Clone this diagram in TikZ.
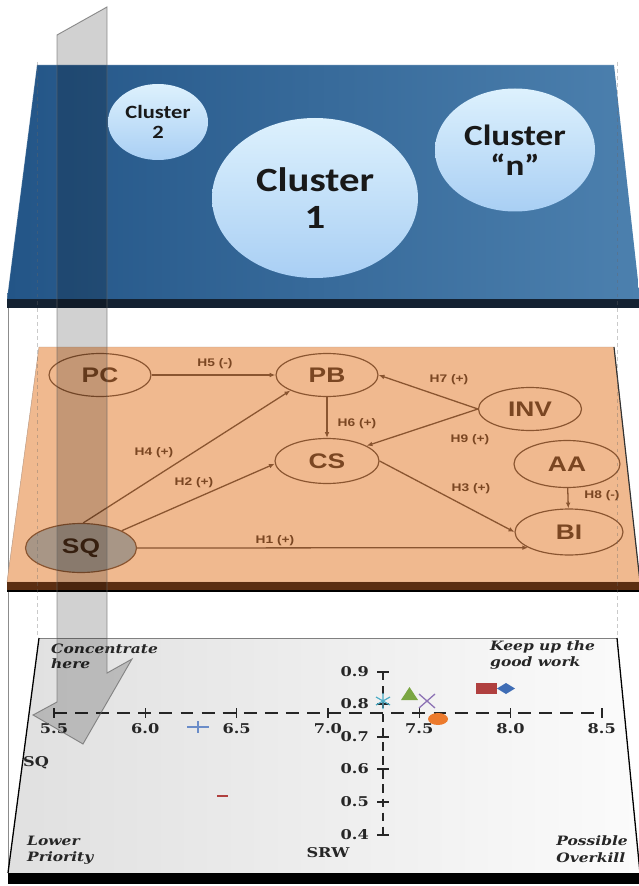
\documentclass[tikz,border=0pt]{standalone}
\usepackage{fontspec}
\usetikzlibrary{arrows.meta,shapes.geometric}
\newfontfamily\clusterfont[FakeStretch=1.2]{Carlito}
\newfontfamily\pathfont[FakeStretch=1.25]{Liberation Sans}
\newfontfamily\plotfont[FakeStretch=1.2]{DejaVu Serif}
\definecolor{clustleft}{HTML}{235587}
\definecolor{clustright}{HTML}{4C80AE}
\definecolor{clustedge}{HTML}{142232}
\definecolor{clustertop}{HTML}{DDF1FD}
\definecolor{clusterbot}{HTML}{A9CFF4}
\definecolor{pathback}{HTML}{F0B98F}
\definecolor{pathedge}{HTML}{5B2E12}
\definecolor{pathline}{HTML}{8A5530}
\definecolor{pathtext}{HTML}{7A4622}
\definecolor{sqfill}{HTML}{A89686}
\definecolor{plotleft}{HTML}{E0E0E0}
\definecolor{plotright}{HTML}{FBFBFB}
\definecolor{mkcyan}{HTML}{4BACC6}
\definecolor{mkgreen}{HTML}{7AA642}
\definecolor{mkpurple}{HTML}{8D72B5}
\definecolor{mkorange}{HTML}{EC7A2C}
\definecolor{mkred}{HTML}{B0403F}
\definecolor{mkblue}{HTML}{3F6DB5}
\definecolor{mklightblue}{HTML}{6A8CC8}

\begin{document}
\begin{tikzpicture}[x=0.3mm,y=-0.3mm,
  cluster/.style={ellipse,inner sep=0pt,top color=clustertop,bottom color=clusterbot,align=center,text=black!90},
  construct/.style={ellipse,draw=pathline,line width=1pt,inner sep=0pt,text=pathtext,font=\pathfont\bfseries\fontsize{18}{18}\selectfont},
  hyp/.style={draw=pathline,line width=1.1pt,-{Latex[length=5pt,width=4pt]}},
  hlabel/.style={font=\pathfont\bfseries\fontsize{9.4}{10}\selectfont,text=pathtext,inner sep=0pt},
  axisline/.style={line width=1.2pt,black!85},
  ticklabel/.style={font=\plotfont\bfseries\fontsize{11.5}{12}\selectfont,inner sep=0pt,text=black!85},
  plotnote/.style={font=\plotfont\bfseries\itshape\fontsize{11}{13}\selectfont,inner sep=0pt,text=black!85},
  band/.style={fill=black,fill opacity=0.18,draw=black!60,draw opacity=0.7,line width=0.8pt}]
\useasboundingbox (0,0) rectangle (638,886);
\draw[black!45,line width=0.5pt] (8,299) -- (8,880);

\shade[left color=clustleft,right color=clustright] (37,65) -- (614,65) -- (640,299) -- (7,299) -- cycle;
\draw[white,draw opacity=0.25,line width=0.6pt] (7,299) -- (37,65) -- (614,65);
\fill[clustedge] (7,299) rectangle (640,308);
\node[cluster,minimum width=30mm,minimum height=22.8mm,font=\clusterfont\bfseries\fontsize{16}{17}\selectfont] (c2) at (158,122) {Cluster\\2};
\node[cluster,minimum width=61.8mm,minimum height=48mm,font=\clusterfont\bfseries\fontsize{29}{31}\selectfont] (c1) at (315,198) {Cluster\\1};
\node[cluster,minimum width=48mm,minimum height=36.9mm,font=\clusterfont\bfseries\fontsize{25}{26}\selectfont] (cn) at (515,150) {Cluster\\“n”};

\filldraw[fill=pathback,draw=pathline!60] (39,347) -- (614,347) -- (640,582) -- (7,582) -- cycle;
\draw[black!80,line width=1pt] (614,347) -- (640,582);
\fill[pathedge] (7,582) rectangle (640,590);
\draw[black,line width=1pt] (7,591) -- (640,591);
\node[construct,minimum width=30.6mm,minimum height=12.9mm] (pc) at (100,375) {PC};
\node[construct,minimum width=30.6mm,minimum height=12.9mm] (pb) at (327,375) {PB};
\node[construct,minimum width=30.9mm,minimum height=12.9mm] (inv) at (530,409) {INV};
\node[construct,minimum width=31.2mm,minimum height=13.5mm] (cs) at (327,461) {CS};
\node[construct,minimum width=31.8mm,minimum height=14.1mm] (aa) at (567,464) {AA};
\node[construct,minimum width=32.4mm,minimum height=13.8mm] (bi) at (569,532) {BI};
\node[construct,minimum width=33.3mm,minimum height=14.7mm,fill=sqfill,text=black!45!pathtext] (sq) at (81,548) {SQ};
\draw[hyp] (pc) -- (pb);
\draw[hyp] (pb) -- (cs);
\draw[hyp] (inv.west) -- (pb.east);
\draw[hyp] (inv.west) -- (cs.21);
\draw[hyp] (cs.east) -- (bi.west);
\draw[hyp] (aa) -- (bi);
\draw[hyp] (sq.east) -- (bi.201);
\draw[hyp] (sq.85) -- (pb.203);
\draw[hyp] (sq.23) -- (cs.183);
\node[hlabel] (h5) at (215,364) {H5 (-)};
\node[hlabel] (h6) at (357,424) {H6 (+)};
\node[hlabel] (h7) at (449,380) {H7 (+)};
\node[hlabel] (h9) at (470,440) {H9 (+)};
\node[hlabel] (h4) at (154,453) {H4 (+)};
\node[hlabel] (h2) at (194,483) {H2 (+)};
\node[hlabel] (h3) at (471,489) {H3 (+)};
\node[hlabel] (h8) at (602,496) {H8 (-)};
\node[hlabel] (h1) at (275,541) {H1 (+)};

\shade[left color=plotleft,right color=plotright] (39,638) -- (617,638) -- (640,873) -- (8,873) -- cycle;
\draw[black!50,line width=0.6pt] (39,638) -- (617,638);
\draw[black,line width=1.1pt] (8,873) -- (39,638) (617,638) -- (640,873);
\fill[black] (8,873) rectangle (640,884);
\draw[axisline,dash pattern=on 11pt off 7pt] (54,713) -- (602,713);
\foreach \v [count=\i from 0] in {5.5,6.0,6.5,7.0,7.5,8.0,8.5} {
  \draw[axisline] ({54+91.3*\i},708) -- ({54+91.3*\i},718);
  \node[ticklabel] (xt\i) at ({54+91.3*\i},729) {\v};
}
\draw[axisline,dash pattern=on 7pt off 5pt] (383,672) -- (383,835);
\foreach \v/\yy [count=\i] in {0.9/672,0.8/704,0.7/737,0.6/769,0.5/802,0.4/835} {
  \draw[axisline] (377,\yy) -- (389,\yy);
  \node[ticklabel,anchor=east] (yt\i) at (369,\yy) {\v};
}
\draw[mkcyan,line width=1pt] (383,693) -- (383,709) (376,697) -- (390,705) (376,705) -- (390,697);
\fill[mkgreen] (401,700) -- (418,700) -- (409.5,687) -- cycle;
\draw[mkpurple,line width=1.1pt] (419,694) -- (435,708) (419,708) -- (435,694);
\fill[mkorange] (438,719) ellipse [x radius=10,y radius=6];
\fill[mkred] (476,683) rectangle (497,694);
\fill[mkblue] (497,688.5) -- (506,683) -- (515,688.5) -- (506,694) -- cycle;
\draw[mklightblue,line width=1pt] (187,727) -- (209,727) (198,721) -- (198,733);
\draw[mkred,line width=2.2pt] (217,796) -- (228,796);
\node[plotnote,anchor=west,align=left] (conc) at (51,656) {Concentrate\\here};
\node[plotnote,anchor=west,align=left] (keep) at (490,655) {Keep up the\\good work};
\node[plotnote,anchor=west,align=left,font=\plotfont\bfseries\itshape\fontsize{11}{14}\selectfont] (lower) at (27,850) {Lower\\Priority};
\node[plotnote,anchor=east,align=left,font=\plotfont\bfseries\itshape\fontsize{11}{14}\selectfont] (over) at (628,849) {Possible\\Overkill};
\node[ticklabel,anchor=west] (sqlab) at (23,763) {SQ};
\node[ticklabel] (srw) at (328,853) {SRW};

\draw[black!60,draw opacity=0.35,dashed,line width=0.5pt] (37,62) -- (37,638) (617,62) -- (617,638);
\filldraw[band] (57,35) -- (107,7) -- (107,673) -- (132,659) -- (83,744) -- (33,715) -- (57,702) -- cycle;
\end{tikzpicture}
\end{document}
